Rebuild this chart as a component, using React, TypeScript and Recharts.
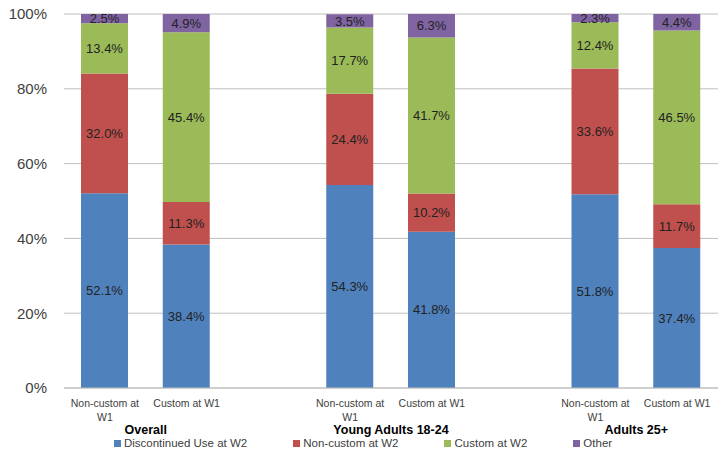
import React from 'react';
import { BarChart, Bar, XAxis, YAxis, CartesianGrid, LabelList } from 'recharts';

const groups = ['Overall', 'Young Adults 18-24', 'Adults 25+'];
const wave1 = ['Non-custom at W1', 'Custom at W1'];
const yTicks = [0, 20, 40, 60, 80, 100];

// one value per bar, in group order (non-custom, custom)
const discontinued = [52.1, 38.4, 54.3, 41.8, 51.8, 37.4];
const nonCustomW2 = [32.0, 11.3, 24.4, 10.2, 33.6, 11.7];
const customW2 = [13.4, 45.4, 17.7, 41.7, 12.4, 46.5];
const other = [2.5, 4.9, 3.5, 6.3, 2.3, 4.4];

const SERIES = [
  { key: 'disc', name: 'Discontinued Use at W2', color: '#4F81BD', values: discontinued },
  { key: 'ncw2', name: 'Non-custom at W2', color: '#C0504D', values: nonCustomW2 },
  { key: 'cw2', name: 'Custom at W2', color: '#9BBB59', values: customW2 },
  { key: 'oth', name: 'Other', color: '#8064A2', values: other },
];

const W = 726;
const H = 456;
const MARGIN = { top: 14, right: 8, left: 0, bottom: 14 };
const Y_WIDTH = 64;
const FONT = '"Liberation Sans", Arial, sans-serif';

type Row = { [k: string]: string | number | boolean | null };

const rows: Row[] = [];
groups.forEach((g, gi) => {
  wave1.forEach((w, wi) => {
    const idx = gi * wave1.length + wi;
    const row: Row = { id: `${gi}-${wi}`, label: w, group: g, first: wi === 0 };
    SERIES.forEach(s => { row[s.key] = s.values[idx]; });
    rows.push(row);
  });
  if (gi < groups.length - 1) {
    const blank: Row = { id: `gap-${gi}`, label: '', group: '', first: false };
    SERIES.forEach(s => { blank[s.key] = null; });
    rows.push(blank);
  }
});

const band = (W - MARGIN.left - MARGIN.right - Y_WIDTH) / rows.length;

const wrapLabel = (text: string, max = 13) => {
  const words = text.split(' ');
  const lines: string[] = [];
  let cur = '';
  words.forEach(w => {
    const next = cur ? `${cur} ${w}` : w;
    if (next.length > max && cur) {
      lines.push(cur);
      cur = w;
    } else {
      cur = next;
    }
  });
  if (cur) lines.push(cur);
  return lines;
};

const CategoryTick = (props: any) => {
  const { x, y, index } = props;
  const row = rows[index];
  if (!row || !row.label) return null;
  const lines = wrapLabel(String(row.label));
  return (
    <g>
      {lines.map((l, i) => (
        <text key={i} x={x} y={y + 19 + i * 14} textAnchor="middle" fontSize={10.5} fill="#404040" fontFamily={FONT}>
          {l}
        </text>
      ))}
      {row.first && (
        <text x={x + band / 2} y={y + 46} textAnchor="middle" fontSize={12.5} fontWeight="bold" fill="#000" fontFamily={FONT}>
          {String(row.group)}
        </text>
      )}
    </g>
  );
};

const pctLabel = (v: any) => (v === null || v === undefined ? '' : `${Number(v).toFixed(1)}%`);

export default function App() {
  return (
    <div style={{ position: 'relative', width: W, height: H, fontFamily: FONT, background: '#fff' }}>
      <style>{'body{margin:0}'}</style>
      <BarChart width={W} height={H} data={rows} margin={MARGIN} barSize={47}>
        <CartesianGrid vertical={false} stroke="#BFBFBF" />
        <XAxis
          dataKey="id"
          interval={0}
          height={54}
          tickLine={false}
          tickSize={0}
          tickMargin={0}
          axisLine={{ stroke: '#BFBFBF' }}
          tick={CategoryTick}
        />
        <YAxis
          width={Y_WIDTH}
          domain={[0, 100]}
          ticks={yTicks}
          allowDataOverflow
          axisLine={false}
          tickLine={false}
          tickSize={0}
          tickMargin={17}
          tickFormatter={(v: number) => `${v}%`}
          tick={{ fontSize: 15, fill: '#404040', fontFamily: FONT }}
        />
        {SERIES.map(s => (
          <Bar key={s.key} dataKey={s.key} name={s.name} stackId="a" fill={s.color} isAnimationActive={false}>
            <LabelList dataKey={s.key} position="center" formatter={pctLabel} fill="#222" fontSize={13} fontFamily={FONT} />
          </Bar>
        ))}
      </BarChart>
      <div
        style={{
          position: 'absolute',
          top: 436,
          left: 0,
          width: W,
          display: 'flex',
          justifyContent: 'center',
          gap: 46,
          fontSize: 11.5,
          lineHeight: '14px',
          color: '#404040',
        }}
      >
        {SERIES.map(s => (
          <div key={s.key} style={{ display: 'flex', alignItems: 'center' }}>
            <span style={{ display: 'inline-block', width: 7, height: 7, background: s.color, marginRight: 3 }} />
            <span>{s.name}</span>
          </div>
        ))}
      </div>
    </div>
  );
}
